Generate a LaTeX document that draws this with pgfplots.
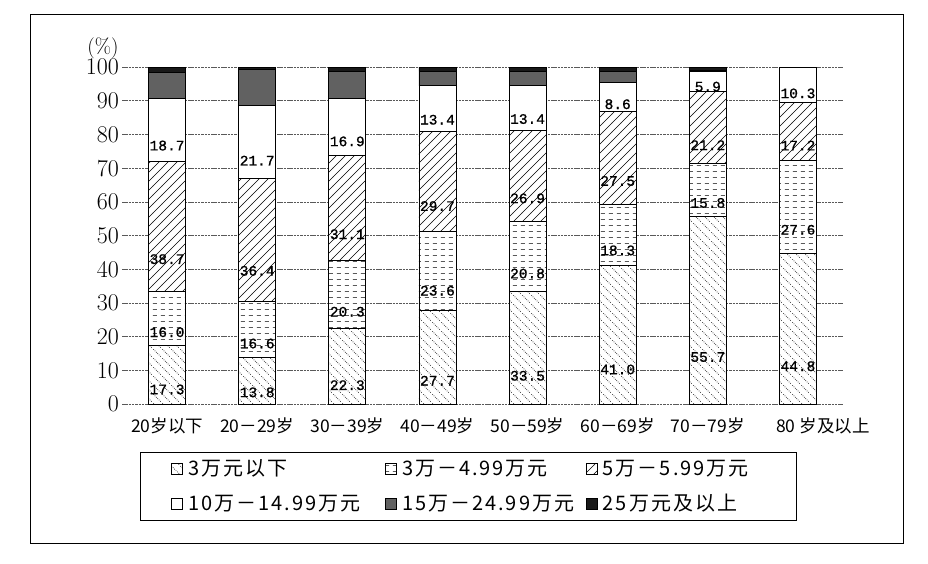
\documentclass[border=0pt]{standalone}
\usepackage{fontspec}
\usepackage{pgfplots}
\usepackage{pgfplotstable}
\pgfplotsset{compat=1.18}
\usetikzlibrary{patterns}
\newfontfamily\cjk{Noto Sans CJK SC}
\newfontfamily\cjkleg[LetterSpace=10]{Noto Sans CJK SC}
\newfontfamily\mono[FakeBold=1]{Liberation Mono}

% dotted diagonal lines, falling to the right
\pgfdeclarepatternformonly{dotdiag}{\pgfqpoint{0pt}{0pt}}{\pgfqpoint{9pt}{9pt}}{\pgfqpoint{9pt}{9pt}}{%
  \pgfpathcircle{\pgfqpoint{0.75pt}{8.25pt}}{0.5pt}%
  \pgfpathcircle{\pgfqpoint{2.25pt}{6.75pt}}{0.5pt}%
  \pgfpathcircle{\pgfqpoint{3.75pt}{5.25pt}}{0.5pt}%
  \pgfpathcircle{\pgfqpoint{5.25pt}{3.75pt}}{0.5pt}%
  \pgfpathcircle{\pgfqpoint{6.75pt}{2.25pt}}{0.5pt}%
  \pgfpathcircle{\pgfqpoint{8.25pt}{0.75pt}}{0.5pt}%
  \pgfusepath{fill}}
% short horizontal dashes
\pgfdeclarepatternformonly{hdash}{\pgfqpoint{0pt}{0pt}}{\pgfqpoint{8pt}{6pt}}{\pgfqpoint{8pt}{6pt}}{%
  \pgfsetlinewidth{0.6pt}%
  \pgfpathmoveto{\pgfqpoint{1pt}{3pt}}\pgfpathlineto{\pgfqpoint{5.5pt}{3pt}}%
  \pgfusepath{stroke}}
% wide /// lines
\pgfdeclarepatternformonly{nelines}{\pgfqpoint{-1pt}{-1pt}}{\pgfqpoint{10pt}{10pt}}{\pgfqpoint{9pt}{9pt}}{%
  \pgfsetlinewidth{0.6pt}%
  \pgfpathmoveto{\pgfqpoint{0pt}{0pt}}\pgfpathlineto{\pgfqpoint{9.1pt}{9.1pt}}%
  \pgfusepath{stroke}}

\pgfplotstableread{
x  a     b     c     d     e     f
0  17.3  16.0  38.7  18.7  7.8   1.5
1  13.8  16.6  36.4  21.7  10.7  0.8
2  22.3  20.3  31.1  16.9  8.2   1.2
3  27.7  23.6  29.7  13.4  4.4   1.2
4  33.5  20.8  26.9  13.4  4.2   1.2
5  41.0  18.3  27.5  8.6   3.4   1.2
6  55.7  15.8  21.2  5.9   0.5   0.9
7  44.8  27.6  17.2  10.3  0     0
}\incdata

\begin{document}
\begin{tikzpicture}
\path[use as bounding box] (0pt,0pt) rectangle (928pt,-564pt);
\draw[line width=1pt] (30pt,-15pt) rectangle (903pt,-543pt);
\begin{axis}[
  at={(122pt,-404pt)}, anchor=south west,
  scale only axis, width=721pt, height=337pt,
  clip=false,
  ybar stacked, bar width=37pt,
  xmin=-0.5, xmax=7.5, ymin=0, ymax=100,
  xtick=data,
  xticklabels={20岁以下,20－29岁,30－39岁,40－49岁,50－59岁,60－69岁,70－79岁,\hspace*{50pt}80 岁及以上},
  ytick={0,10,...,100},
  /pgf/number format/assume math mode=true,
  axis line style={draw=none},
  major tick length=0pt,
  ymajorgrids,
  grid style={black!65, line width=0.6pt, dash pattern=on 2.5pt off 0.8pt},
  yticklabel style={font=\fontsize{24}{24}\selectfont, inner sep=1pt, xshift=-2pt},
  xticklabel style={font=\cjk\fontsize{17.5}{17.5}\selectfont, yshift=-10pt},
  every axis plot/.append style={draw=black, line width=0.8pt},
  lbl/.style={
    nodes near coords={\pgfmathprintnumber[fixed,fixed zerofill,precision=1,assume math mode=true]{\pgfplotspointmeta}},
    point meta=rawy,
    visualization depends on={rawy \as \rawy},
    every node near coord/.append style={anchor=center, yshift={-0.8425pt*\rawy},
      font=\mono\fontsize{14.5}{14.5}\selectfont, inner sep=0pt, text=black},
  },
  legend columns=3,
  legend image code/.code={\draw[#1] (0pt,-5.5pt) rectangle (11pt,5.5pt);},
  legend style={at={(0.025,-0.1424)}, anchor=north west, draw=black, line width=0.8pt,
    font=\cjkleg\fontsize{20}{20}\selectfont, inner xsep=31pt, inner ysep=6.5pt,
    nodes={inner sep=1pt},
    row sep=15pt,
    /tikz/every odd column/.append style={column sep=4pt},
    /tikz/every even column/.append style={column sep=0pt}},
  legend cell align=left,
]
\addplot[fill=white, postaction={pattern=dotdiag}, lbl] table[x=x,y=a]{\incdata};
\addplot[fill=white, postaction={pattern=hdash}, lbl] table[x=x,y=b]{\incdata};
\addplot[fill=white, postaction={pattern=nelines}, lbl] table[x=x,y=c]{\incdata};
\addplot[fill=white, lbl] table[x=x,y=d]{\incdata};
\addplot[fill=black!62, skip coords between index={7}{8}] table[x=x,y=e]{\incdata};
\addplot[fill=black!90, skip coords between index={7}{8}] table[x=x,y=f]{\incdata};
\legend{\makebox[196pt][l]{3万元以下},\makebox[183pt][l]{3万－4.99万元},\makebox[162pt][l]{5万－5.99万元},
  \makebox[196pt][l]{10万－14.99万元},\makebox[183pt][l]{15万－24.99万元},\makebox[162pt][l]{25万元及以上}}
\node[font=\fontsize{21}{21}\selectfont] at (rel axis cs:0,1) [xshift=-19pt, yshift=19pt] {(\%)};
\end{axis}
\end{tikzpicture}
\end{document}
